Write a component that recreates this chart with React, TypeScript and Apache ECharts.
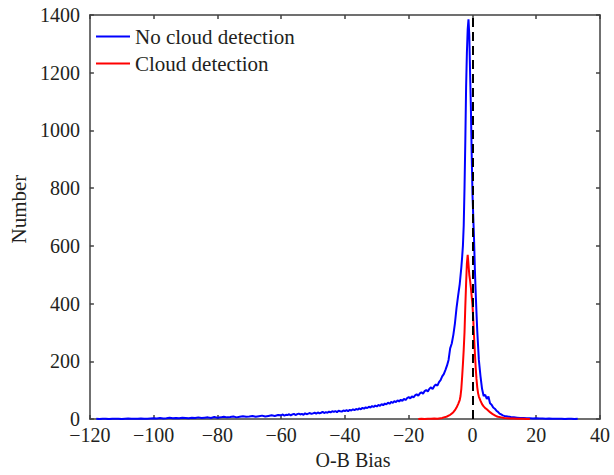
import React, { useEffect, useRef } from "react";
import * as echarts from "echarts";

const xTicks = { min: -120, max: 40, interval: 20 };
const yTicks = { min: 0, max: 1400, interval: 200 };

const seriesNames = ["No cloud detection", "Cloud detection"];

// Histogram bins [O-B bias, count] — no cloud detection
const blueData: [number, number][] = [
  [-118, 1], [-117, 0], [-116, 1], [-115, 1], [-114, 0], [-113, 1], [-112, 1], [-111, 1], [-110, 0], [-109, 1],
  [-108, 2], [-107, 1], [-106, 1], [-105, 1], [-104, 2], [-103, 1], [-102, 1], [-101, 2], [-100, 3], [-99, 2],
  [-98, 4], [-97, 2], [-96, 3], [-95, 5], [-94, 3], [-93, 4], [-92, 3], [-91, 5], [-90, 4], [-89, 3],
  [-88, 5], [-87, 4], [-86, 6], [-85, 4], [-84, 5], [-83, 6], [-82, 4], [-81, 7], [-80, 5], [-79, 6],
  [-78, 8], [-77, 6], [-76, 7], [-75, 9], [-74, 6], [-73, 8], [-72, 10], [-71, 8], [-70, 9], [-69, 11],
  [-68, 8], [-67, 10], [-66, 12], [-65, 9], [-64, 11], [-63, 13], [-62, 11], [-61, 14],
  [-60, 13], [-59.5, 16], [-59, 12], [-58.5, 15], [-58, 14], [-57.5, 17], [-57, 13], [-56.5, 16], [-56, 18], [-55.5, 14],
  [-55, 17], [-54.5, 19], [-54, 16], [-53.5, 18], [-53, 15], [-52.5, 20], [-52, 17], [-51.5, 19], [-51, 21], [-50.5, 18],
  [-50, 20], [-49.5, 22], [-49, 19], [-48.5, 23], [-48, 20], [-47.5, 22], [-47, 25], [-46.5, 21], [-46, 24], [-45.5, 22],
  [-45, 26], [-44.5, 23], [-44, 27], [-43.5, 25], [-43, 28], [-42.5, 24], [-42, 29], [-41.5, 27], [-41, 26], [-40.5, 30],
  [-40, 28], [-39.5, 31], [-39, 27], [-38.5, 32], [-38, 30], [-37.5, 34], [-37, 31], [-36.5, 35], [-36, 33], [-35.5, 37],
  [-35, 34], [-34.5, 39], [-34, 36], [-33.5, 41], [-33, 38], [-32.5, 43], [-32, 40], [-31.5, 45], [-31, 42], [-30.5, 47],
  [-30, 44], [-29.5, 49], [-29, 46], [-28.5, 52], [-28, 48], [-27.5, 54], [-27, 51], [-26.5, 57], [-26, 53], [-25.5, 60],
  [-25, 56], [-24.5, 62], [-24, 59], [-23.5, 65], [-23, 61], [-22.5, 67], [-22, 63], [-21.5, 70], [-21, 66], [-20.5, 73],
  [-20, 76], [-19.5, 72], [-19, 79], [-18.5, 75], [-18, 82], [-17.5, 86], [-17, 81], [-16.5, 89], [-16, 93], [-15.5, 88],
  [-15, 97], [-14.5, 101], [-14, 96], [-13.5, 105], [-13, 110], [-12.5, 104], [-12, 114], [-11.5, 120], [-11, 116], [-10.5, 128],
  [-10, 135], [-9.5, 148], [-9, 156], [-8.5, 170], [-8, 185], [-7.5, 205], [-7, 245], [-6.5, 262], [-6, 292], [-5.5, 332],
  [-5, 385], [-4.5, 428], [-4, 468], [-3.5, 525], [-3.25, 560], [-3, 600], [-2.75, 670], [-2.5, 800], [-2.25, 960], [-2, 1150],
  [-1.75, 1270], [-1.5, 1350], [-1.25, 1385], [-1, 1330], [-0.75, 1200], [-0.5, 1080], [-0.25, 920], [0, 780], [0.25, 700], [0.5, 620],
  [0.75, 520], [1, 440], [1.25, 370], [1.5, 305], [1.75, 255], [2, 205], [2.5, 150], [3, 105], [3.5, 80], [4, 84],
  [4.5, 70], [5, 78], [5.5, 55], [6, 50], [6.5, 40], [7, 36], [7.5, 29], [8, 25], [8.5, 19], [9, 16],
  [9.5, 13], [10, 11], [11, 9], [12, 7], [13, 6], [14, 5], [15, 4], [16, 4], [17, 3], [18, 3],
  [19, 2], [20, 3], [21, 2], [22, 2], [23, 1], [24, 2], [25, 1], [26, 1], [27, 1], [28, 1],
  [29, 0], [30, 1], [31, 1], [32, 0], [33, 1],
];

// Histogram bins [O-B bias, count] — cloud detection
const redData: [number, number][] = [
  [-17, 0], [-16, 1], [-15, 0], [-14, 1], [-13, 1], [-12, 2], [-11, 1], [-10, 3], [-9.5, 4], [-9, 6],
  [-8.5, 7], [-8, 9], [-7.5, 12], [-7, 15], [-6.5, 19], [-6, 24], [-5.5, 31], [-5, 40], [-4.5, 52], [-4, 66],
  [-3.75, 80], [-3.5, 105], [-3.25, 145], [-3, 190], [-2.75, 240], [-2.5, 300], [-2.25, 390], [-2, 470], [-1.75, 540], [-1.5, 569],
  [-1.25, 535], [-1, 500], [-0.75, 480], [-0.5, 455], [-0.25, 425], [0, 395], [0.25, 345], [0.5, 285], [0.75, 230], [1, 180],
  [1.25, 140], [1.5, 110], [1.75, 90], [2, 78], [2.5, 64], [3, 52], [3.5, 44], [4, 38], [4.5, 34], [5, 29],
  [5.5, 24], [6, 20], [6.5, 16], [7, 13], [7.5, 10], [8, 8], [9, 6], [10, 4], [11, 3], [12, 2],
  [13, 2], [14, 1], [15, 1], [16, 1], [17, 0], [18, 0],
];

const refLine = 0;

const FONT = "Liberation Serif";
const TEXT = "#231f20";
const AXIS = "#404040";

export default function App() {
  const ref = useRef<HTMLDivElement>(null);
  useEffect(() => {
    if (!ref.current) return;
    const chart = echarts.init(ref.current, null, { renderer: "svg" });
    const axisLine = { show: true, onZero: false, lineStyle: { color: AXIS, width: 1.5 } };
    const axisTick = { show: true, inside: true, length: 4, lineStyle: { color: AXIS, width: 1.5 } };
    const labelStyle = { fontFamily: FONT, fontSize: 20, color: TEXT, fontWeight: "normal" as const };
    chart.setOption({
      animation: false,
      backgroundColor: "#ffffff",
      textStyle: { fontFamily: FONT },
      grid: { left: 83, right: 14, top: 15, bottom: 53, containLabel: false },
      legend: {
        data: seriesNames,
        orient: "vertical",
        left: 96,
        top: 26,
        padding: 0,
        itemWidth: 34,
        itemHeight: 2,
        itemGap: 6,
        icon: "rect",
        textStyle: { ...labelStyle, fontSize: 21, lineHeight: 20 },
      },
      xAxis: [
        {
          type: "value",
          position: "bottom",
          min: xTicks.min,
          max: xTicks.max,
          interval: xTicks.interval,
          name: "O-B Bias",
          nameLocation: "middle",
          nameGap: 25,
          nameTextStyle: { fontFamily: FONT, fontSize: 20, color: TEXT, verticalAlign: "top", padding: [0, 0, 0, 16] },
          axisLine,
          axisTick,
          splitLine: { show: false },
          axisLabel: {
            ...labelStyle,
            lineHeight: 14,
            margin: 9,
            formatter: (v: number) => String(v).replace("-", "\u2212"),
          },
        },
        {
          type: "value",
          position: "top",
          min: xTicks.min,
          max: xTicks.max,
          interval: xTicks.interval,
          axisLine,
          axisTick,
          splitLine: { show: false },
          axisLabel: { show: false },
        },
      ],
      yAxis: [
        {
          type: "value",
          position: "left",
          min: yTicks.min,
          max: yTicks.max,
          interval: yTicks.interval,
          name: "Number",
          nameLocation: "middle",
          nameGap: 55,
          nameTextStyle: { fontFamily: FONT, fontSize: 21, color: TEXT, padding: [0, 0, 0, 16] },
          axisLine,
          axisTick,
          splitLine: { show: false },
          axisLabel: {
            ...labelStyle,
            lineHeight: 14,
            margin: 10,
            formatter: (v: number) => String(v),
          },
        },
        {
          type: "value",
          position: "right",
          min: yTicks.min,
          max: yTicks.max,
          interval: yTicks.interval,
          axisLine,
          axisTick,
          splitLine: { show: false },
          axisLabel: { show: false },
        },
      ],
      series: [
        {
          name: seriesNames[0],
          type: "line",
          data: blueData,
          showSymbol: false,
          symbol: "none",
          lineStyle: { color: "#0000ff", width: 2 },
          itemStyle: { color: "#0000ff" },
          z: 2,
        },
        {
          name: seriesNames[1],
          type: "line",
          data: redData,
          showSymbol: false,
          symbol: "none",
          lineStyle: { color: "#ff0000", width: 2 },
          itemStyle: { color: "#ff0000" },
          z: 3,
          markLine: {
            silent: true,
            symbol: ["none", "none"],
            label: { show: false },
            lineStyle: { color: "#000000", type: [9, 5], width: 2 },
            data: [{ xAxis: refLine }],
            z: 4,
          },
        },
      ],
    });
    return () => chart.dispose();
  }, []);
  return <div ref={ref} style={{ position: "fixed", left: 0, top: 0, width: 614, height: 475 }} />;
}
